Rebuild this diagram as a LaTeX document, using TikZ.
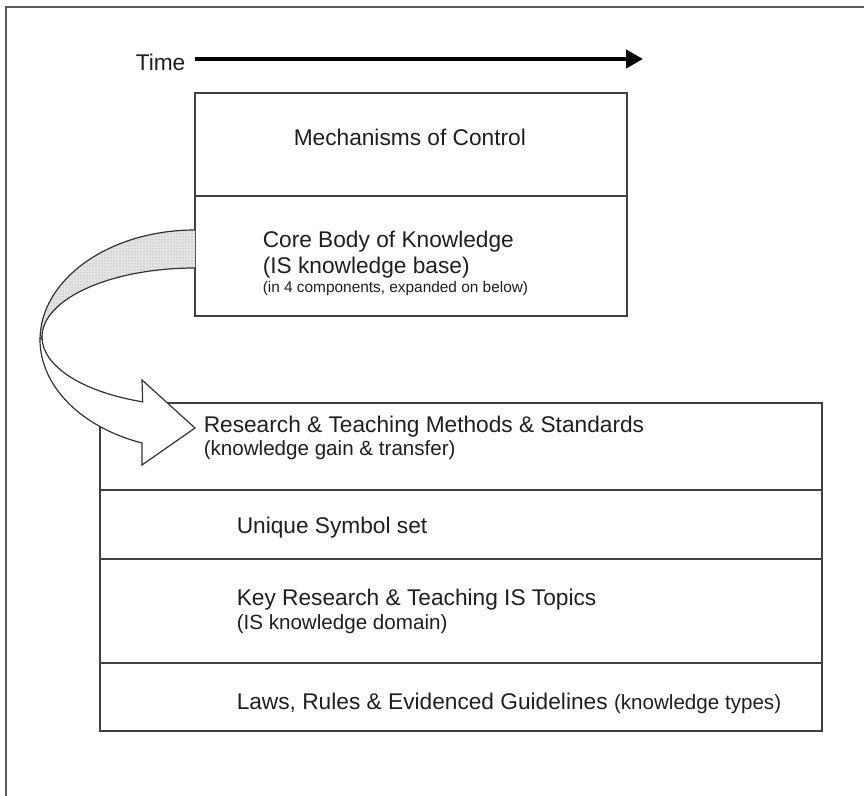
\documentclass[tikz,border=0pt]{standalone}
\usepackage{fontspec}
\setmainfont{Liberation Sans}
\usetikzlibrary{arrows.meta,patterns}
\begin{document}
\begin{tikzpicture}[x=1pt,y=1pt,
  line width=1.5pt,
  boxline/.style={draw=black!75, line width=1.5pt},
  layer/.style={boxline, rectangle, inner sep=0pt, outer sep=0pt, anchor=north west},
  maintxt/.style={font=\fontsize{22.7}{27}\selectfont, text=black!88, inner sep=0pt, anchor=base west},
  subtxt/.style={font=\fontsize{20.6}{24}\selectfont, text=black!88, inner sep=0pt, anchor=base west},
  smalltxt/.style={font=\fontsize{15.4}{18}\selectfont, text=black!88, inner sep=0pt, anchor=base west},
  ribbon/.style={draw=black!80, line width=1.2pt}
]
\useasboundingbox (0,0) rectangle (864,-795);

% outer frame (open towards right and bottom)
\draw[draw=black!65, line width=2.2pt] (870,-7) -- (6,-7) -- (6,-800);

% time axis
\node[maintxt] (time) at (135,-70) {Time};
\coordinate (tstart) at (195,-59);
\coordinate (tend) at (643,-59);
\draw[line width=4.5pt, -{Triangle[length=17pt,width=18pt]}] (tstart) -- (tend);

% upper stack
\node[layer, minimum width=432pt, minimum height=103pt] (mech) at (195,-93) {};
\node[layer, minimum width=432pt, minimum height=120pt] (core) at (195,-196) {};
\node[maintxt] (mechT) at (293,-145) {Mechanisms of Control};
\node[maintxt] (coreT1) at (262,-247) {Core Body of Knowledge};
\node[maintxt] (coreT2) at (262,-273) {(IS knowledge base)};
\node[smalltxt] (coreT3) at (262,-292) {(in 4 components, expanded on below)};

% lower stack of four components
\node[layer, minimum width=722pt, minimum height=87pt] (meth) at (100,-403) {};
\node[layer, minimum width=722pt, minimum height=69pt] (symb) at (100,-490) {};
\node[layer, minimum width=722pt, minimum height=104pt] (topic) at (100,-559) {};
\node[layer, minimum width=722pt, minimum height=68pt] (laws) at (100,-663) {};

\node[maintxt] (methT1) at (203,-432) {Research \& Teaching Methods \& Standards};
\node[subtxt] (methT2) at (203,-455) {(knowledge gain \& transfer)};
\node[maintxt] (symbT) at (236,-533) {Unique Symbol set};
\node[maintxt] (topicT1) at (236,-605) {Key Research \& Teaching IS Topics};
\node[subtxt] (topicT2) at (236,-629) {(IS knowledge domain)};
\node[maintxt] (lawsT) at (236,-709) {Laws, Rules \& Evidenced Guidelines \fontsize{20.6}{24}\selectfont(knowledge types)};

% twisted ribbon arrow: shaded back face leaving the core layer
\path[fill=black!10] (195,-230) arc[start angle=90, end angle=180, x radius=155, y radius=110]
  -- (42,-337) arc[start angle=180, end angle=90, x radius=153, y radius=69] -- cycle;
\path[pattern=dots, pattern color=black!45] (195,-230) arc[start angle=90, end angle=180, x radius=155, y radius=110]
  -- (42,-337) arc[start angle=180, end angle=90, x radius=153, y radius=69] -- cycle;
\draw[ribbon] (195,-230) arc[start angle=90, end angle=180, x radius=155, y radius=110];
\draw[ribbon] (195,-268) arc[start angle=90, end angle=180, x radius=153, y radius=69];

% front face with the arrow head pointing into the methods layer
\draw[ribbon, fill=white] (42,-337) arc[start angle=180, end angle=250, x radius=153, y radius=69]
  -- (142,-380) -- (195,-428) -- (142,-465) -- (142,-443)
  arc[start angle=250, end angle=180, x radius=155, y radius=110] -- cycle;
\end{tikzpicture}
\end{document}
